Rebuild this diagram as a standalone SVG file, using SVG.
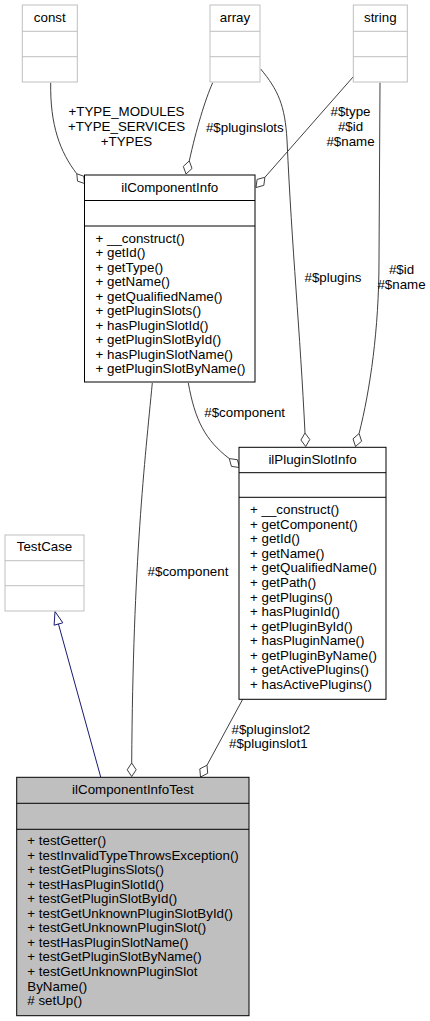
<svg xmlns="http://www.w3.org/2000/svg" width="430" height="1021" viewBox="0 0 430 1021">
<style>
text{font-family:"Liberation Sans",Arial,sans-serif;font-size:13.33px;fill:#000}
.c{text-anchor:middle}
.box{fill:#fff;stroke:#000;stroke-width:1}
.gbox{fill:#fff;stroke:#bfbfbf;stroke-width:1}
.tbox{fill:#bfbfbf;stroke:#000;stroke-width:1}
.sep{stroke:#000;stroke-width:1}
.gsep{stroke:#bfbfbf;stroke-width:1}
.e{fill:none;stroke:#404040;stroke-width:1}
.d{fill:#fff;stroke:#404040;stroke-width:1}
.inh{fill:none;stroke:#191970;stroke-width:1}
.tri{fill:#fff;stroke:#191970;stroke-width:1}
</style>
<rect width="430" height="1021" fill="#fff"/>
<g id="connectors">
<path class="e" d="M50.7,82.7 C50,125 60,152 76.8,173.8"/>
<polygon class="d" points="76.8,173.8 83.8,176.2 84.5,183.5 77.5,181.1"/>
<path class="e" d="M212.7,82.7 C205,100 196,130 189.3,160.9"/>
<polygon class="d" points="189.3,160.9 192,168.5 186,174 183.3,166.4"/>
<path class="e" d="M353.3,76.7 L264.9,177.3"/>
<polygon class="d" points="264.9,177.3 263.8,185.4 256,187.5 257.1,179.4"/>
<path class="e" d="M260.7,69 C278,90 285,105 287,140 C292,250 300,330 305,433"/>
<polygon class="d" points="305,433 309.8,439.5 305.7,446.5 300.9,440"/>
<path class="e" d="M380,82.7 L379,260 C379,330 370,390 359.1,433.5"/>
<polygon class="d" points="359.1,433.5 361.6,441.2 355.5,446.5 353,438.8"/>
<path class="e" d="M188.3,383 C195,420 205,440 229.3,458.6"/>
<polygon class="d" points="229.3,458.6 237.4,459.7 239.5,467.5 231.4,466.4"/>
<path class="e" d="M152.3,383 C145,460 133,560 131.7,763"/>
<polygon class="d" points="131.7,763 136.2,769.75 131.7,776.5 127.2,769.75"/>
<path class="e" d="M242.7,699.3 L207,765.2"/>
<polygon class="d" points="207,765.2 207.7,773.3 200.5,777 199.8,768.9"/>
<path class="inh" d="M100.7,777 L58.46,624"/>
<polygon class="tri" points="55,611.5 62.8,622.8 54.1,625.2"/>
<text class="c" x="126.5" y="116">+TYPE_MODULES</text>
<text class="c" x="126.5" y="131">+TYPE_SERVICES</text>
<text class="c" x="126.5" y="146">+TYPES</text>
<text class="c" x="244.8" y="131.5">#$pluginslots</text>
<text class="c" x="350.5" y="116">#$type</text>
<text class="c" x="350.5" y="131">#$id</text>
<text class="c" x="350.5" y="146">#$name</text>
<text class="c" x="333" y="282">#$plugins</text>
<text class="c" x="401.5" y="274">#$id</text>
<text class="c" x="401.5" y="289">#$name</text>
<text class="c" x="244.7" y="417">#$component</text>
<text class="c" x="188" y="576">#$component</text>
<text x="231.5" y="734">#$pluginslot2</text>
<text x="229" y="748">#$pluginslot1</text>
</g>
<g id="const">
<rect class="gbox" x="22.3" y="5" width="55" height="77"/>
<line class="gsep" x1="22.3" y1="31.3" x2="77.3" y2="31.3"/>
<line class="gsep" x1="22.3" y1="56.7" x2="77.3" y2="56.7"/>
<text class="c" x="49.8" y="22">const</text>
</g>
<g id="array">
<rect class="gbox" x="210" y="5" width="50" height="77"/>
<line class="gsep" x1="210" y1="31.3" x2="260" y2="31.3"/>
<line class="gsep" x1="210" y1="56.7" x2="260" y2="56.7"/>
<text class="c" x="235" y="22">array</text>
</g>
<g id="string">
<rect class="gbox" x="353.3" y="5" width="54" height="77"/>
<line class="gsep" x1="353.3" y1="31.3" x2="407.3" y2="31.3"/>
<line class="gsep" x1="353.3" y1="56.7" x2="407.3" y2="56.7"/>
<text class="c" x="380.3" y="22">string</text>
</g>
<g id="ilComponentInfo">
<rect class="box" x="84.5" y="175" width="170.5" height="207"/>
<line class="sep" x1="84.5" y1="200.5" x2="255" y2="200.5"/>
<line class="sep" x1="84.5" y1="226" x2="255" y2="226"/>
<text class="c" x="169.75" y="192">ilComponentInfo</text>
<text x="95.5" y="242.7">+ __construct()</text>
<text x="95.5" y="257.2">+ getId()</text>
<text x="95.5" y="271.7">+ getType()</text>
<text x="95.5" y="286.2">+ getName()</text>
<text x="95.5" y="300.7">+ getQualifiedName()</text>
<text x="95.5" y="315.2">+ getPluginSlots()</text>
<text x="95.5" y="329.7">+ hasPluginSlotId()</text>
<text x="95.5" y="344.2">+ getPluginSlotById()</text>
<text x="95.5" y="358.7">+ hasPluginSlotName()</text>
<text x="95.5" y="373.2">+ getPluginSlotByName()</text>
</g>
<g id="ilPluginSlotInfo">
<rect class="box" x="239" y="447.3" width="147" height="252"/>
<line class="sep" x1="239" y1="472.7" x2="386" y2="472.7"/>
<line class="sep" x1="239" y1="497.3" x2="386" y2="497.3"/>
<text class="c" x="312.5" y="463.5">ilPluginSlotInfo</text>
<text x="250" y="514">+ __construct()</text>
<text x="250" y="528.6">+ getComponent()</text>
<text x="250" y="543.2">+ getId()</text>
<text x="250" y="557.7">+ getName()</text>
<text x="250" y="572.3">+ getQualifiedName()</text>
<text x="250" y="586.9">+ getPath()</text>
<text x="250" y="601.5">+ getPlugins()</text>
<text x="250" y="616.1">+ hasPluginId()</text>
<text x="250" y="630.6">+ getPluginById()</text>
<text x="250" y="645.2">+ hasPluginName()</text>
<text x="250" y="659.8">+ getPluginByName()</text>
<text x="250" y="674.4">+ getActivePlugins()</text>
<text x="250" y="689">+ hasActivePlugins()</text>
</g>
<g id="TestCase">
<rect class="gbox" x="5" y="535" width="79" height="76"/>
<line class="gsep" x1="5" y1="560.7" x2="84" y2="560.7"/>
<line class="gsep" x1="5" y1="585.7" x2="84" y2="585.7"/>
<text class="c" x="44.5" y="551">TestCase</text>
</g>
<g id="ilComponentInfoTest">
<rect class="tbox" x="16.7" y="777.3" width="232.3" height="238.4"/>
<line class="sep" x1="16.7" y1="803.3" x2="249" y2="803.3"/>
<line class="sep" x1="16.7" y1="829.3" x2="249" y2="829.3"/>
<text class="c" x="132.85" y="794">ilComponentInfoTest</text>
<text x="27.3" y="845">+ testGetter()</text>
<text x="27.3" y="859.5">+ testInvalidTypeThrowsException()</text>
<text x="27.3" y="874.1">+ testGetPluginsSlots()</text>
<text x="27.3" y="888.6">+ testHasPluginSlotId()</text>
<text x="27.3" y="903.2">+ testGetPluginSlotById()</text>
<text x="27.3" y="917.7">+ testGetUnknownPluginSlotById()</text>
<text x="27.3" y="932.3">+ testGetUnknownPluginSlot()</text>
<text x="27.3" y="946.8">+ testHasPluginSlotName()</text>
<text x="27.3" y="961.4">+ testGetPluginSlotByName()</text>
<text x="27.3" y="975.9">+ testGetUnknownPluginSlot</text>
<text x="27.3" y="990.5">ByName()</text>
<text x="27.3" y="1005">&#35; setUp()</text>
</g>
</svg>
